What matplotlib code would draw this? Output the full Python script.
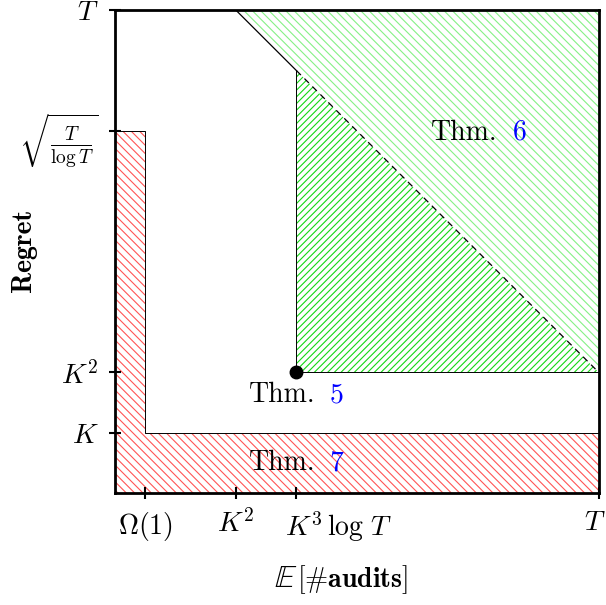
import numpy as np
import matplotlib.pyplot as plt
from matplotlib.transforms import ScaledTranslation

plt.rcParams['mathtext.fontset'] = 'cm'
plt.rcParams['font.family'] = 'serif'
plt.rcParams['font.serif'] = ['cmr10', 'DejaVu Serif']
plt.rcParams['axes.unicode_minus'] = False
plt.rcParams['hatch.linewidth'] = 0.8

x_ticks = [0.5, 2, 3, 8]
x_labels = [r'$\Omega(1)$', r'$K^2$', r'$K^3\,\log\,T$', r'$T$']
y_ticks = [1, 2, 6, 8]
y_labels = [r'$K$', r'$K^2$', r'$\sqrt{\frac{T}{\log T}}$', r'$T$']

# regions (x, y vertices)
red_x = [0, 0.5, 0.5, 8, 8, 0]
red_y = [6, 6, 1, 1, 0, 0]
light_x = [2, 8, 8]
light_y = [8, 8, 2]
dark_x = [3, 3, 8]
dark_y = [2, 7, 2]
point = (3, 2)

fig = plt.figure(figsize=(6.06, 6.05), dpi=100)
ax = fig.add_axes([0.19, 0.185, 0.798, 0.798])

ax.fill(red_x, red_y, facecolor='none', edgecolor='#ff5555', hatch='\\\\\\\\', linewidth=0)
ax.fill(light_x, light_y, facecolor='none', edgecolor='#86f086', hatch='\\\\\\\\', linewidth=0)
ax.fill(dark_x, dark_y, facecolor='none', edgecolor='#14d814', hatch='/////', linewidth=0)

# outlines
ax.plot([0, 0.5, 0.5, 8], [6, 6, 1, 1], color='k', lw=0.7)
ax.plot([8, 3, 3], [2, 2, 7], color='k', lw=0.7)
ax.plot([2, 3], [8, 7], color='k', lw=0.9)
ax.plot([3, 8], [7, 2], color='k', lw=0.9, ls=(0, (5, 4)))
ax.plot(point[0], point[1], 'ko', markersize=9, clip_on=False, zorder=5)

fs = 20
ax.text(6.33, 5.97, 'Thm.', ha='right', va='center', fontsize=fs)
ax.text(6.58, 5.97, '6', ha='left', va='center', fontsize=fs, color='blue')
ax.text(3.31, 1.62, 'Thm.', ha='right', va='center', fontsize=fs)
ax.text(3.55, 1.62, '5', ha='left', va='center', fontsize=fs, color='blue')
ax.text(3.31, 0.5, 'Thm.', ha='right', va='center', fontsize=fs)
ax.text(3.55, 0.5, '7', ha='left', va='center', fontsize=fs, color='blue')

ax.set_xlim(0, 8)
ax.set_ylim(0, 8)
ax.set_xticks(x_ticks)
ax.set_xticklabels(x_labels, fontsize=fs)
ax.set_yticks(y_ticks)
ax.set_yticklabels(y_labels, fontsize=fs)
ax.tick_params(direction='inout', length=8, width=1.5, pad=8)
for s in ax.spines.values():
    s.set_linewidth(2)

# the K^3 log T label sits to the right of its tick
lbl = ax.get_xticklabels()[2]
lbl.set_horizontalalignment('left')
lbl.set_transform(lbl.get_transform() + ScaledTranslation(-0.11, 0, fig.dpi_scale_trans))
# keep the last T inside the picture
lbl = ax.get_xticklabels()[3]
lbl.set_transform(lbl.get_transform() + ScaledTranslation(-0.04, 0, fig.dpi_scale_trans))

# x label: blackboard E from stix, rest in computer modern
ax.text(0.376, -0.195, r'$\mathbb{E}$', transform=ax.transAxes, ha='right', va='baseline',
        fontsize=23, math_fontfamily='stix')
ax.text(0.376, -0.195, r'$[\#\mathbf{audits}]$', transform=ax.transAxes, ha='left', va='baseline',
        fontsize=fs)
ax.set_ylabel('Regret', fontsize=fs, fontfamily='cmb10')
ax.yaxis.set_label_coords(-0.161, 0.503)

plt.savefig('out.png', dpi=100)
